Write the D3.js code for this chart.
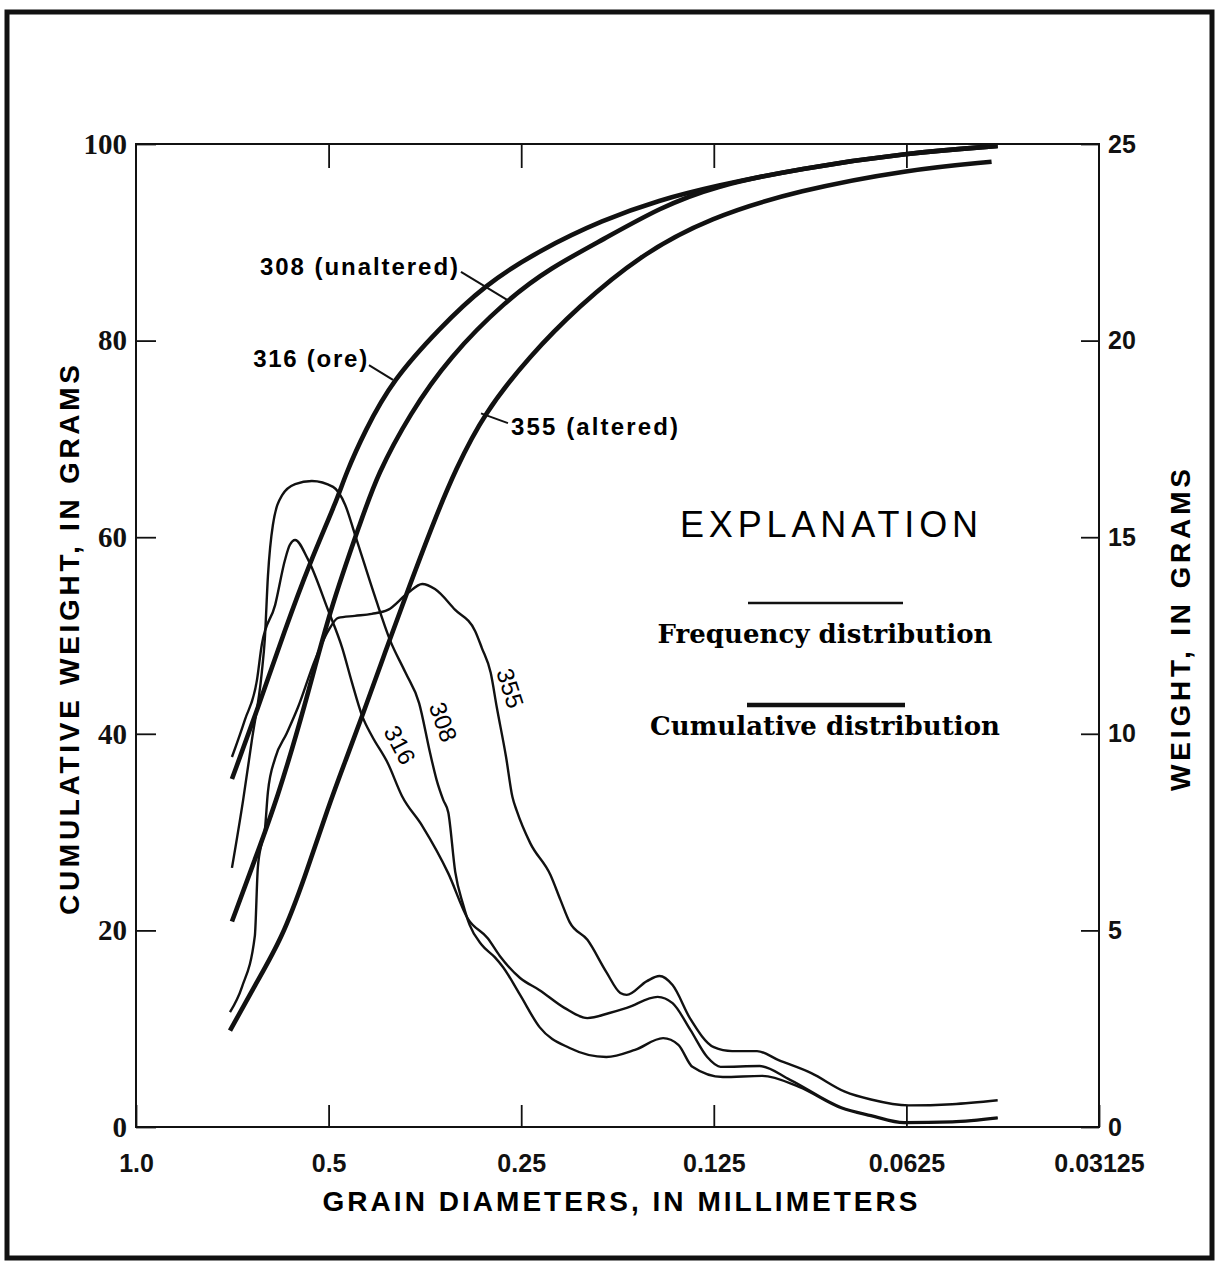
<!DOCTYPE html>
<html lang="en">
<head>
<meta charset="UTF-8">
<title>Grain size distribution</title>
<script src="https://d3js.org/d3.v7.min.js"></script>
</head>
<body style="margin: 0; background: #fff;">
<svg id="chart" width="1217" height="1262"></svg>
<script>
// axis ticks
const xTicks = [1.0, 0.5, 0.25, 0.125, 0.0625, 0.03125];
const xTickLabels = ["1.0", "0.5", "0.25", "0.125", "0.0625", "0.03125"];
const leftTicks = [0, 20, 40, 60, 80, 100];
const rightTicks = [0, 5, 10, 15, 20, 25];

// frequency distribution: grain diameter (mm) -> weight (grams, right axis)
const freq316Mm = [0.708, 0.676, 0.647, 0.636, 0.606, 0.585, 0.575, 0.564, 0.539, 0.501, 0.476, 0.460, 0.443, 0.428, 0.404, 0.384, 0.357, 0.325, 0.303, 0.282, 0.270, 0.251, 0.234, 0.214, 0.197, 0.182, 0.171, 0.153, 0.145, 0.136, 0.128, 0.122, 0.106, 0.095, 0.079, 0.071, 0.063, 0.053, 0.045];
const freq316G  = [9.41, 10.35, 11.37, 12.26, 13.28, 14.42, 14.80, 14.93, 14.45, 13.15, 12.18, 11.32, 10.45, 9.95, 9.25, 8.42, 7.66, 6.45, 5.30, 4.80, 4.35, 3.79, 3.48, 3.03, 2.77, 2.90, 3.03, 3.31, 3.15, 2.47, 1.78, 1.53, 1.55, 1.20, 0.50, 0.30, 0.12, 0.14, 0.24];

const freq308Mm = [0.708, 0.680, 0.659, 0.636, 0.629, 0.622, 0.611, 0.591, 0.564, 0.531, 0.492, 0.471, 0.455, 0.423, 0.401, 0.379, 0.361, 0.347, 0.339, 0.331, 0.325, 0.317, 0.308, 0.301, 0.288, 0.275, 0.267, 0.251, 0.234, 0.210, 0.184, 0.166, 0.150, 0.142, 0.135, 0.121, 0.105, 0.092, 0.079, 0.071, 0.063, 0.053, 0.045];
const freq308G  = [6.59, 8.32, 9.84, 11.55, 12.41, 14.01, 15.31, 16.07, 16.35, 16.43, 16.28, 15.82, 15.08, 13.48, 12.39, 11.55, 10.78, 9.51, 8.83, 8.32, 8.00, 6.49, 5.65, 5.14, 4.63, 4.32, 4.07, 3.36, 2.54, 2.01, 1.78, 1.96, 2.26, 2.09, 1.53, 1.27, 1.30, 1.02, 0.48, 0.28, 0.10, 0.12, 0.22];

const freq355Mm = [0.713, 0.683, 0.652, 0.645, 0.636, 0.629, 0.622, 0.606, 0.581, 0.558, 0.525, 0.501, 0.483, 0.455, 0.428, 0.404, 0.376, 0.357, 0.341, 0.317, 0.295, 0.288, 0.279, 0.273, 0.264, 0.258, 0.254, 0.242, 0.225, 0.217, 0.210, 0.197, 0.184, 0.175, 0.171, 0.159, 0.152, 0.145, 0.136, 0.125, 0.117, 0.107, 0.099, 0.088, 0.078, 0.071, 0.062, 0.053, 0.045];
const freq355G  = [2.92, 3.56, 4.86, 6.60, 7.22, 7.55, 8.52, 9.38, 10.02, 10.68, 11.88, 12.61, 12.95, 13.00, 13.05, 13.15, 13.58, 13.81, 13.68, 13.15, 12.61, 12.18, 11.55, 10.68, 9.41, 8.39, 8.04, 7.22, 6.41, 5.77, 5.21, 4.76, 3.94, 3.41, 3.36, 3.71, 3.84, 3.61, 2.75, 2.03, 1.93, 1.93, 1.70, 1.37, 0.90, 0.70, 0.55, 0.58, 0.68];

// cumulative distribution: grain diameter (mm) -> cumulative weight (grams, left axis)
const cum316Mm = [0.708, 0.645, 0.585, 0.535, 0.485, 0.471, 0.439, 0.397, 0.336, 0.286, 0.234, 0.186, 0.152, 0.125, 0.092, 0.062, 0.045];
const cum316G  = [35.4, 42.6, 50.6, 57.4, 63.8, 66.3, 70.8, 76.0, 81.2, 85.6, 89.2, 92.3, 94.3, 95.7, 97.5, 99.1, 99.8];

const cum308Mm = [0.708, 0.652, 0.602, 0.544, 0.498, 0.443, 0.420, 0.373, 0.324, 0.264, 0.225, 0.186, 0.152, 0.125, 0.092, 0.062, 0.045];
const cum308G  = [20.9, 27.2, 33.3, 42.9, 52.6, 62.0, 66.3, 72.6, 78.3, 84.1, 87.4, 90.3, 93.5, 95.7, 97.5, 99.1, 99.8];

const cum355Mm = [0.713, 0.652, 0.591, 0.544, 0.501, 0.471, 0.443, 0.408, 0.376, 0.340, 0.317, 0.286, 0.242, 0.204, 0.163, 0.127, 0.092, 0.062, 0.046];
const cum355G  = [9.8, 14.4, 19.2, 25.5, 32.5, 37.2, 41.8, 48.3, 54.6, 62.1, 66.8, 72.6, 78.5, 83.4, 88.7, 92.5, 95.3, 97.4, 98.2];

// curve labels (anchored in data units)
const freqLabelText = ["316", "308", "355"];
const freqLabelMm = [0.387, 0.331, 0.260];
const freqLabelG = [9.72, 10.30, 11.16];
const freqLabelAngle = [62, 70, 72];

const cumLabelText = ["308 (unaltered)", "316 (ore)", "355 (altered)"];
const cumLabelMm = [0.640, 0.656, 0.2594];
const cumLabelG = [86.7, 77.3, 70.4];
const cumLabelWidth = [198, 114, 167];
const leaderFromMm = [0.3105, 0.4324, 0.2889];
const leaderFromG = [87.0, 77.5, 72.6];
const leaderToMm = [0.2622, 0.3966, 0.2622];
const leaderToG = [84.1, 76.0, 71.6];

const sans = "'Liberation Sans', Arial, sans-serif";
const serif = "'DejaVu Serif', serif";

const svg = d3.select("#chart");
const plotLeft = 136, plotRight = 1099, plotTop = 144, plotBottom = 1127;

const x = d3.scaleLog().base(2).domain([1, 0.03125]).range([plotLeft, plotRight]);
const yLeft = d3.scaleLinear().domain([0, 100]).range([plotBottom, plotTop]);
const yRight = d3.scaleLinear().domain([0, 25]).range([plotBottom, plotTop]);

// outer frame
svg.append("rect")
  .attr("x", 7).attr("y", 12)
  .attr("width", 1205).attr("height", 1246)
  .attr("fill", "none")
  .attr("stroke", "#111")
  .attr("stroke-width", 5);

// plot box
svg.append("rect")
  .attr("x", plotLeft).attr("y", plotTop)
  .attr("width", plotRight - plotLeft).attr("height", plotBottom - plotTop)
  .attr("fill", "none")
  .attr("stroke", "#111")
  .attr("stroke-width", 2);

function styleAxis(g) {
  g.select(".domain").remove();
  g.selectAll(".tick line").attr("stroke", "#111").attr("stroke-width", 1.8);
  g.selectAll(".tick text").attr("fill", "#111");
}

svg.append("g")
  .attr("transform", `translate(0,${plotBottom})`)
  .call(d3.axisBottom(x).tickValues(xTicks)
    .tickFormat(d => xTickLabels[xTicks.indexOf(d)])
    .tickSizeInner(-22).tickSizeOuter(0).tickPadding(27))
  .call(styleAxis)
  .selectAll("text")
  .style("font-family", sans).style("font-size", "25px").style("font-weight", "bold");

svg.append("g")
  .attr("transform", `translate(0,${plotTop})`)
  .call(d3.axisTop(x).tickValues(xTicks.slice(1, 5)).tickFormat("")
    .tickSizeInner(-24).tickSizeOuter(0))
  .call(styleAxis);

svg.append("g")
  .attr("transform", `translate(${plotLeft},0)`)
  .call(d3.axisLeft(yLeft).tickValues(leftTicks)
    .tickSizeInner(-20).tickSizeOuter(0).tickPadding(9))
  .call(styleAxis)
  .selectAll("text")
  .style("font-family", "'Liberation Serif', serif").style("font-size", "29px").style("font-weight", "bold");

svg.append("g")
  .attr("transform", `translate(${plotRight},0)`)
  .call(d3.axisRight(yRight).tickValues(rightTicks)
    .tickSizeInner(-18).tickSizeOuter(0).tickPadding(9))
  .call(styleAxis)
  .selectAll("text")
  .style("font-family", sans).style("font-size", "25px").style("font-weight", "bold");

// axis titles
svg.append("text")
  .attr("x", 620).attr("y", 1211)
  .attr("text-anchor", "middle")
  .attr("textLength", 595).attr("lengthAdjust", "spacing")
  .style("font-family", sans).style("font-size", "28px").style("font-weight", "bold")
  .text("GRAIN DIAMETERS, IN MILLIMETERS");

svg.append("text")
  .attr("transform", "translate(79,640) rotate(-90)")
  .attr("text-anchor", "middle")
  .attr("textLength", 550).attr("lengthAdjust", "spacing")
  .style("font-family", sans).style("font-size", "28px").style("font-weight", "bold")
  .text("CUMULATIVE WEIGHT, IN GRAMS");

svg.append("text")
  .attr("transform", "translate(1190,630) rotate(-90)")
  .attr("text-anchor", "middle")
  .attr("textLength", 322).attr("lengthAdjust", "spacing")
  .style("font-family", sans).style("font-size", "28px").style("font-weight", "bold")
  .text("WEIGHT, IN GRAMS");

// curves
function series(mm, g) { return mm.map((d, i) => [d, g[i]]); }

const freqLine = d3.line().x(d => x(d[0])).y(d => yRight(d[1])).curve(d3.curveMonotoneX);
const cumLine = d3.line().x(d => x(d[0])).y(d => yLeft(d[1])).curve(d3.curveBasis);

[series(freq316Mm, freq316G), series(freq308Mm, freq308G), series(freq355Mm, freq355G)]
  .forEach(s => {
    svg.append("path").datum(s)
      .attr("fill", "none").attr("stroke", "#111")
      .attr("stroke-width", 2.4).attr("stroke-linejoin", "round")
      .attr("d", freqLine);
  });

[series(cum316Mm, cum316G), series(cum308Mm, cum308G), series(cum355Mm, cum355G)]
  .forEach(s => {
    svg.append("path").datum(s)
      .attr("fill", "none").attr("stroke", "#111")
      .attr("stroke-width", 4.6).attr("stroke-linecap", "butt")
      .attr("d", cumLine);
  });

// labels on frequency curves
freqLabelText.forEach((t, i) => {
  svg.append("text")
    .attr("transform", `translate(${x(freqLabelMm[i])},${yRight(freqLabelG[i])}) rotate(${freqLabelAngle[i]})`)
    .attr("text-anchor", "middle")
    .attr("dominant-baseline", "central")
    .style("font-family", sans).style("font-size", "24px")
    .text(t);
});

// labels and leaders on cumulative curves
cumLabelText.forEach((t, i) => {
  svg.append("text")
    .attr("x", x(cumLabelMm[i])).attr("y", yLeft(cumLabelG[i]))
    .attr("textLength", cumLabelWidth[i]).attr("lengthAdjust", "spacing")
    .style("font-family", sans).style("font-size", "24px").style("font-weight", "bold")
    .text(t);
  svg.append("line")
    .attr("x1", x(leaderFromMm[i])).attr("y1", yLeft(leaderFromG[i]))
    .attr("x2", x(leaderToMm[i])).attr("y2", yLeft(leaderToG[i]))
    .attr("stroke", "#111").attr("stroke-width", 2);
});

// explanation
svg.append("text")
  .attr("x", 829).attr("y", 537)
  .attr("text-anchor", "middle")
  .attr("textLength", 298).attr("lengthAdjust", "spacing")
  .style("font-family", sans).style("font-size", "36px")
  .text("EXPLANATION");

svg.append("line")
  .attr("x1", 748).attr("x2", 903).attr("y1", 603).attr("y2", 603)
  .attr("stroke", "#111").attr("stroke-width", 2.4);
svg.append("text")
  .attr("x", 825).attr("y", 643)
  .attr("text-anchor", "middle")
  .attr("textLength", 335).attr("lengthAdjust", "spacing")
  .style("font-family", serif).style("font-size", "26px").style("font-weight", "bold")
  .text("Frequency distribution");

svg.append("line")
  .attr("x1", 747).attr("x2", 905).attr("y1", 705).attr("y2", 705)
  .attr("stroke", "#111").attr("stroke-width", 4.6);
svg.append("text")
  .attr("x", 825).attr("y", 735)
  .attr("text-anchor", "middle")
  .attr("textLength", 350).attr("lengthAdjust", "spacing")
  .style("font-family", serif).style("font-size", "26px").style("font-weight", "bold")
  .text("Cumulative distribution");
</script>
</body>
</html>
